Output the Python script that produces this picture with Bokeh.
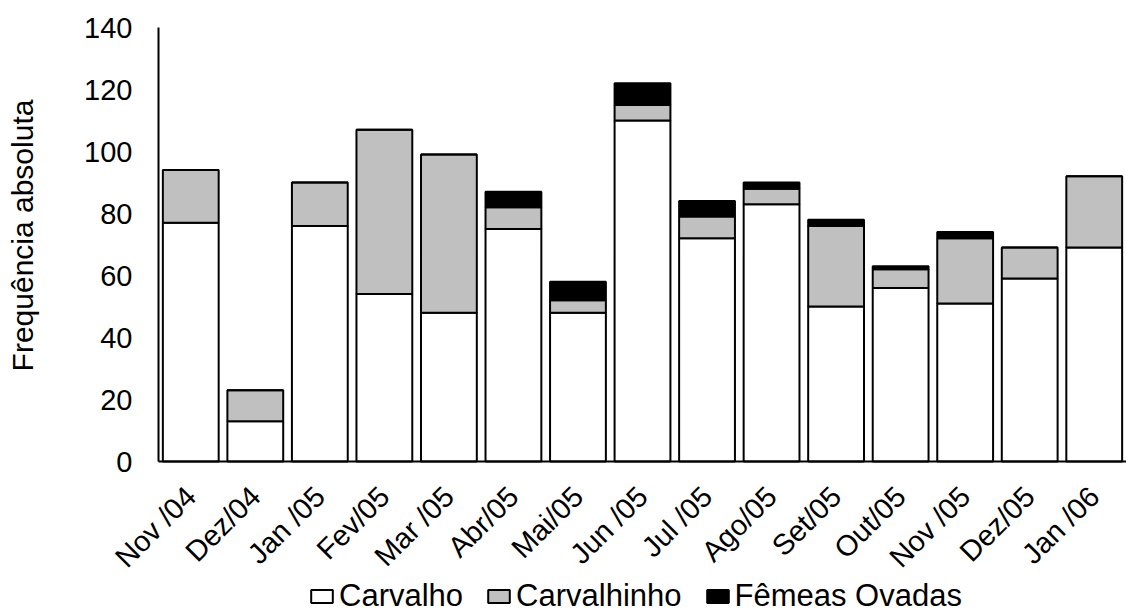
from math import pi
from bokeh.plotting import figure
from bokeh.models import Range1d, Legend, LegendItem, ColumnDataSource, FixedTicker, Label
from bokeh.embed import file_html
from bokeh.resources import INLINE

months = ["Nov /04", "Dez/04", "Jan /05", "Fev/05", "Mar /05", "Abr/05", "Mai/05",
          "Jun /05", "Jul /05", "Ago/05", "Set/05", "Out/05", "Nov /05", "Dez/05", "Jan /06"]
carvalho = [77, 13, 76, 54, 48, 75, 48, 110, 72, 83, 50, 56, 51, 59, 69]
carvalhinho = [17, 10, 14, 53, 51, 7, 4, 5, 7, 5, 26, 6, 21, 10, 23]
femeas = [0, 0, 0, 0, 0, 5, 6, 7, 5, 2, 2, 1, 2, 0, 0]
series = ["Carvalho", "Carvalhinho", "Fêmeas Ovadas"]
colors = ["#FFFFFF", "#C0C0C0", "#000000"]
yticks = [0, 20, 40, 60, 80, 100, 120, 140]
ylabel = "Frequência absoluta"

FONT = "Liberation Sans"

# layout (pixels): plot area x 158..1126, y 27..461; frame covers whole canvas
W, H = 1126, 612
LEFT, TOP, BOTTOM = 158, 27, 461
n = len(months)
ymax_v = 140
px_x = (W - LEFT) / n
px_y = (BOTTOM - TOP) / ymax_v
x0 = -0.5 - LEFT / px_x
x1 = n - 0.5
y1 = ymax_v + TOP / px_y
y0 = ymax_v - (H - TOP) / px_y

idx = list(range(n))
src = ColumnDataSource(dict(x=idx, Carvalho=carvalho,
                            Carvalhinho=carvalhinho, Femeas=femeas))

p = figure(width=W, height=H, output_backend="svg", toolbar_location=None,
           x_range=Range1d(x0, x1), y_range=Range1d(y0, y1),
           min_border_left=0, min_border_right=0, min_border_top=0,
           min_border_bottom=0)

rs = p.vbar_stack(["Carvalho", "Carvalhinho", "Femeas"], x="x", width=0.865,
                  source=src, fill_color=colors, line_color="black", line_width=2)

p.grid.visible = False
p.outline_line_color = None
p.background_fill_color = "white"

p.yaxis.fixed_location = -0.5
p.yaxis.bounds = (0, ymax_v)
p.yaxis.ticker = FixedTicker(ticks=yticks)
p.yaxis.major_tick_out = 0
p.yaxis.major_tick_in = 0
p.yaxis.minor_tick_line_color = None
p.yaxis.axis_line_color = "black"
p.yaxis.axis_line_width = 2
p.yaxis.major_label_text_font = FONT
p.yaxis.major_label_text_font_size = "29px"
p.yaxis.major_label_text_color = "black"
p.yaxis.major_label_standoff = 26

p.xaxis.fixed_location = 0
p.xaxis.bounds = (-0.5, n - 0.5)
p.xaxis.ticker = FixedTicker(ticks=idx)
p.xaxis.major_label_overrides = {i: m for i, m in zip(idx, months)}
p.xaxis.major_tick_out = 0
p.xaxis.major_tick_in = 0
p.xaxis.minor_tick_line_color = None
p.xaxis.axis_line_color = "black"
p.xaxis.axis_line_width = 2
p.xaxis.major_label_orientation = pi / 4
p.xaxis.major_label_text_font = FONT
p.xaxis.major_label_text_font_size = "29px"
p.xaxis.major_label_text_color = "black"
p.xaxis.major_label_standoff = 30

p.add_layout(Label(x=22, y=H - 235, x_units="screen", y_units="screen",
                   text=ylabel, angle=pi / 2, text_align="center",
                   text_baseline="middle", text_font=FONT,
                   text_font_size="30px", text_color="black"))

items = [LegendItem(label=s, renderers=[r]) for s, r in zip(series, rs)]
legend = Legend(items=items, orientation="horizontal", location=(308, -2),
                label_text_font=FONT, label_text_font_size="31px",
                label_text_color="black", label_height=26,
                glyph_width=27, glyph_height=16, label_standoff=4, spacing=22,
                padding=0, margin=0, border_line_color=None,
                background_fill_alpha=0)
p.add_layout(legend, "center")

open("out.html", "w").write(file_html(p, INLINE))
